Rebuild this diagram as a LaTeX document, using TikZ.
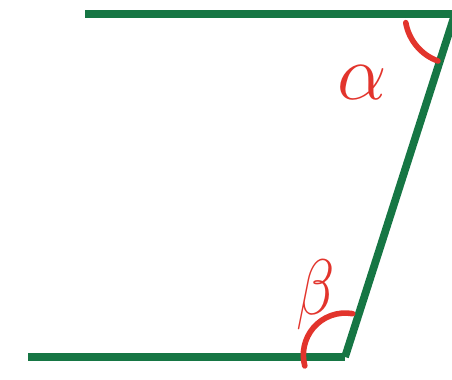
\documentclass[tikz,border=0pt]{standalone}
\usepackage{tikz}
\usetikzlibrary{calc}
\definecolor{lineinkgreen}{RGB}{22, 118, 68}
\definecolor{markred}{RGB}{226, 52, 44}

\begin{document}
\begin{tikzpicture}[
    x=0.02cm, y=0.02cm,
    parline/.style={draw=lineinkgreen, line width=4.4pt},
    anglearc/.style={draw=markred, line width=3.2pt, line cap=round},
    anglelabel/.style={text=markred, font=\Huge, inner sep=0pt, scale=1.8},
  ]
  \clip (0,0) rectangle (452,379);
  \coordinate (topleft) at (85,365);
  \coordinate (topright) at (455,365);
  \coordinate (botleft) at (28,22);
  \coordinate (botright) at (345,22);
  \draw[parline] (topleft) -- (topright);
  \draw[parline] (botleft) -- (botright);
  \draw[parline] (botright) -- (topright);
  \draw[anglearc] ($(topright)+(190:50)$) arc[start angle=190, end angle=250, radius=50];
  \draw[anglearc] ($(botright)+(80:44)$) arc[start angle=80, end angle=195, radius=42];
  \node[anglelabel] (alpha) at (362,296) {$\alpha$};
  \node[anglelabel, xscale=0.8] (beta) at (316,84) {$\beta$};
\end{tikzpicture}
\end{document}
